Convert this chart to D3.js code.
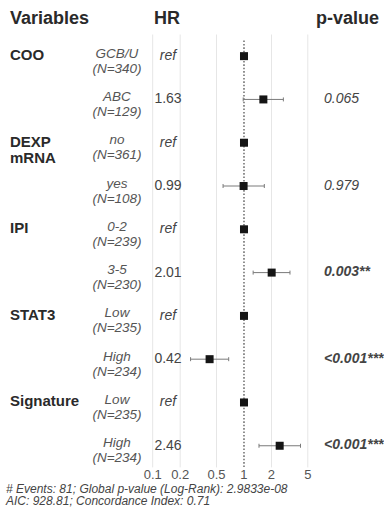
<!DOCTYPE html>
<html>
<head>
<meta charset="utf-8">
<script src="https://cdn.jsdelivr.net/npm/d3@7"></script>
<style>
  html, body { margin: 0; padding: 0; background: #fff; }
  svg { display: block; font-family: "Liberation Sans", Arial, Helvetica, sans-serif; }
</style>
</head>
<body>
<svg id="forest" width="384" height="514"></svg>
<script>
// Cox model summary, one entry per factor level (reference levels first)
const variableNames = ["COO", "", "DEXP\nmRNA", "", "IPI", "", "STAT3", "", "Signature", ""];
const levelNames = ["GCB/U", "ABC", "no", "yes", "0-2", "3-5", "Low", "High", "Low", "High"];
const levelCounts = [340, 129, 361, 108, 239, 230, 235, 234, 235, 234];
const isReference = [true, false, true, false, true, false, true, false, true, false];
const hazardRatios = [1, 1.63, 1, 0.99, 1, 2.01, 1, 0.42, 1, 2.46];
const ciLower = [null, 0.98, null, 0.59, null, 1.26, null, 0.26, null, 1.46];
const ciUpper = [null, 2.70, null, 1.67, null, 3.19, null, 0.68, null, 4.16];
const pValueLabels = ["", "0.065", "", "0.979", "", "0.003**", "", "<0.001***", "", "<0.001***"];
const pSignificant = [false, false, false, false, false, true, false, true, false, true];
const axisTicks = [0.1, 0.2, 0.5, 1, 2, 5];
const headers = ["Variables", "HR", "p-value"];
const footerLines = [
  "# Events: 81; Global p-value (Log-Rank): 2.9833e-08",
  "AIC: 928.81; Concordance Index: 0.71"
];

const svg = d3.select("#forest");
const rows = d3.range(levelNames.length);

const x = d3.scaleLog().domain([0.1, 5]).range([152.7, 307.8]);
const y = d3.scaleBand().domain(rows).range([34.5, 467.4]);
const cy = i => y(i) + y.bandwidth() / 2;

const colX = { variable: 10, level: 117, hr: 168, p: 324 };

// vertical grid lines at the tick values, reference line at HR = 1
svg.append("g").selectAll("line")
  .data(axisTicks.filter(t => t !== 1))
  .join("line")
  .attr("x1", d => x(d)).attr("x2", d => x(d))
  .attr("y1", y.range()[0]).attr("y2", y.range()[1])
  .attr("stroke", "#e6e6e6").attr("stroke-width", 1);

svg.append("line")
  .attr("x1", x(1)).attr("x2", x(1))
  .attr("y1", y.range()[0] + 6).attr("y2", y.range()[1])
  .attr("stroke", "#555").attr("stroke-width", 1.3)
  .attr("stroke-dasharray", "1.6,1.8");

// header
const headerX = [colX.variable, 154, 316];
svg.append("g").selectAll("text")
  .data(headers)
  .join("text")
  .attr("x", (d, i) => headerX[i]).attr("y", 24)
  .attr("font-size", 18).attr("font-weight", "bold").attr("fill", "#2a2a2a")
  .text(d => d);

// variable names (bold, may span two lines)
const varG = svg.append("g");
rows.filter(i => variableNames[i] !== "").forEach(i => {
  const t = varG.append("text")
    .attr("x", colX.variable).attr("y", cy(i) + 4)
    .attr("font-size", 15).attr("font-weight", "bold").attr("fill", "#2a2a2a");
  variableNames[i].split("\n").forEach((line, k) => {
    t.append("tspan").attr("x", colX.variable).attr("dy", k === 0 ? 0 : 16).text(line);
  });
});

// level names with counts
const lvlG = svg.append("g")
  .attr("font-size", 13.5).attr("font-style", "italic").attr("fill", "#555")
  .attr("text-anchor", "middle");
lvlG.selectAll("text.level").data(rows).join("text")
  .attr("class", "level")
  .attr("x", colX.level).attr("y", i => cy(i) + 1.5)
  .text(i => levelNames[i]);
lvlG.selectAll("text.count").data(rows).join("text")
  .attr("class", "count")
  .attr("x", colX.level).attr("y", i => cy(i) + 16.5)
  .text(i => `(N=${levelCounts[i]})`);

// hazard ratio text
svg.append("g").selectAll("text").data(rows).join("text")
  .attr("x", colX.hr).attr("y", i => cy(i) + 4)
  .attr("text-anchor", "middle").attr("font-size", 14).attr("fill", "#444")
  .attr("font-style", i => isReference[i] ? "italic" : "normal")
  .text(i => isReference[i] ? "ref" : hazardRatios[i].toFixed(2));

// confidence intervals
const ciRows = rows.filter(i => !isReference[i]);
const ciG = svg.append("g").attr("stroke", "#7a7a7a").attr("stroke-width", 1);
ciG.selectAll("line.ci").data(ciRows).join("line")
  .attr("class", "ci")
  .attr("x1", i => x(ciLower[i])).attr("x2", i => x(ciUpper[i]))
  .attr("y1", cy).attr("y2", cy);
ciG.selectAll("line.capL").data(ciRows).join("line")
  .attr("class", "capL")
  .attr("x1", i => x(ciLower[i])).attr("x2", i => x(ciLower[i]))
  .attr("y1", i => cy(i) - 2).attr("y2", i => cy(i) + 2);
ciG.selectAll("line.capU").data(ciRows).join("line")
  .attr("class", "capU")
  .attr("x1", i => x(ciUpper[i])).attr("x2", i => x(ciUpper[i]))
  .attr("y1", i => cy(i) - 2).attr("y2", i => cy(i) + 2);

// point estimates
const sq = 8;
svg.append("g").selectAll("rect").data(rows).join("rect")
  .attr("x", i => x(hazardRatios[i]) - sq / 2)
  .attr("y", i => cy(i) - sq / 2)
  .attr("width", sq).attr("height", sq)
  .attr("fill", "#151515");

// p-values
svg.append("g").selectAll("text").data(rows.filter(i => pValueLabels[i] !== "")).join("text")
  .attr("x", colX.p).attr("y", i => cy(i) + 3.5)
  .attr("font-size", 14).attr("font-style", "italic").attr("fill", "#444")
  .attr("font-weight", i => pSignificant[i] ? "bold" : "normal")
  .text(i => pValueLabels[i]);

// axis tick labels
svg.append("g").selectAll("text").data(axisTicks).join("text")
  .attr("x", d => x(d)).attr("y", 479)
  .attr("text-anchor", "middle").attr("font-size", 13).attr("fill", "#555")
  .text(d => d3.format("~g")(d));

// model summary footer
svg.append("g").selectAll("text").data(footerLines).join("text")
  .attr("x", 6).attr("y", (d, i) => 492.5 + i * 12.5)
  .attr("font-size", 12).attr("font-style", "italic").attr("fill", "#444")
  .text(d => d);
</script>
</body>
</html>
